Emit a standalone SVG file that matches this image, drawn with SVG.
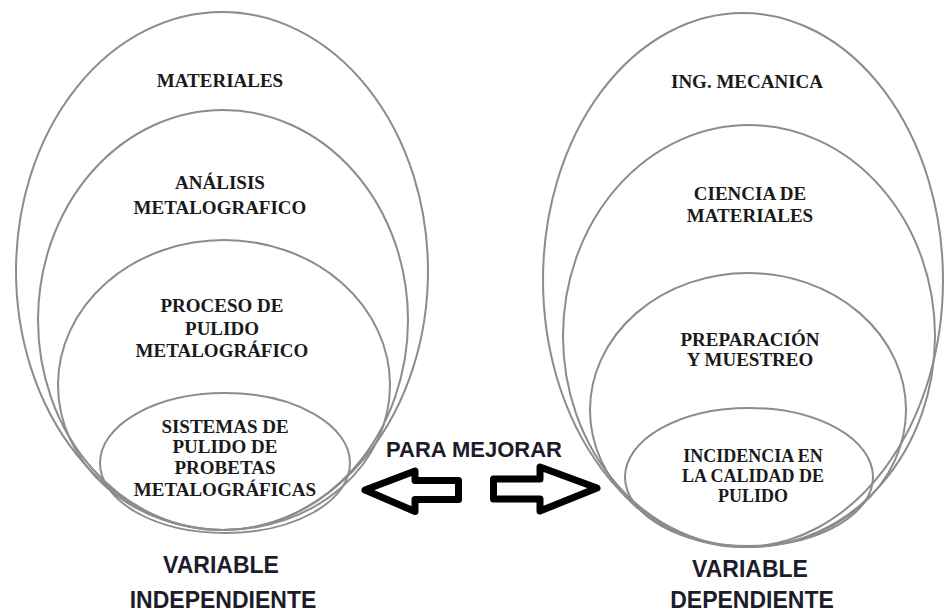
<svg xmlns="http://www.w3.org/2000/svg" width="946" height="613" viewBox="0 0 946 613">
<style>
.e{fill:none;stroke:#8c8c8c;stroke-width:2}
.t{font-family:"Liberation Serif","Times New Roman",serif;font-weight:bold;font-size:19px;fill:#1a1a1a;text-anchor:middle}
.s{font-family:"Liberation Sans",Arial,sans-serif;font-weight:bold;font-size:23px;fill:#1c1c2a;text-anchor:middle}
.a{fill:#fff;stroke:#000;stroke-width:7;stroke-linejoin:round}
</style>
<rect width="946" height="613" fill="#fff"/>
<g id="left-materiales"><ellipse class="e" cx="222" cy="271" rx="206" ry="259"/><text class="t" x="220" y="87">MATERIALES</text></g>
<g id="left-analisis"><ellipse class="e" cx="223" cy="320" rx="185" ry="210"/><text class="t" x="220" y="189">ANÁLISIS</text><text class="t" x="220" y="214">METALOGRAFICO</text></g>
<g id="left-proceso"><ellipse class="e" cx="224" cy="385" rx="166" ry="145"/><text class="t" x="222" y="312">PROCESO DE</text><text class="t" x="222" y="335">PULIDO</text><text class="t" x="222" y="357">METALOGRÁFICO</text></g>
<g id="left-sistemas"><ellipse class="e" cx="225" cy="463" rx="125" ry="70"/><text class="t" x="225" y="433">SISTEMAS DE</text><text class="t" x="225" y="453">PULIDO DE</text><text class="t" x="225" y="474">PROBETAS</text><text class="t" x="225" y="496">METALOGRÁFICAS</text></g>
<g id="right-ing"><ellipse class="e" cx="743" cy="280" rx="200" ry="267"/><text class="t" x="747" y="88">ING. MECANICA</text></g>
<g id="right-ciencia"><ellipse class="e" cx="749" cy="336" rx="186" ry="211"/><text class="t" x="750" y="200">CIENCIA DE</text><text class="t" x="750" y="222">MATERIALES</text></g>
<g id="right-preparacion"><ellipse class="e" cx="748" cy="410" rx="158" ry="137"/><text class="t" x="750" y="346">PREPARACIÓN</text><text class="t" x="750" y="366">Y MUESTREO</text></g>
<g id="right-incidencia"><ellipse class="e" cx="749" cy="477" rx="124" ry="69"/><text class="t" x="753" y="462" style="font-size:18px">INCIDENCIA EN</text><text class="t" x="753" y="482" style="font-size:18px">LA CALIDAD DE</text><text class="t" x="753" y="502" style="font-size:18px">PULIDO</text></g>
<g id="connectors">
<polygon class="a" points="365,490 415,471 415,480.5 458.5,480.5 458.5,499.5 415,499.5 415,511.5"/>
<polygon class="a" points="597,488 540,467 540,479 493.5,479 493.5,499 540,499 540,511"/>
</g>
<g id="labels">
<text class="s" x="474" y="457" style="font-size:22px">PARA MEJORAR</text>
<text class="s" x="221" y="573">VARIABLE</text>
<text class="s" x="223" y="608">INDEPENDIENTE</text>
<text class="s" x="750" y="577">VARIABLE</text>
<text class="s" x="752" y="608">DEPENDIENTE</text>
</g>
</svg>
